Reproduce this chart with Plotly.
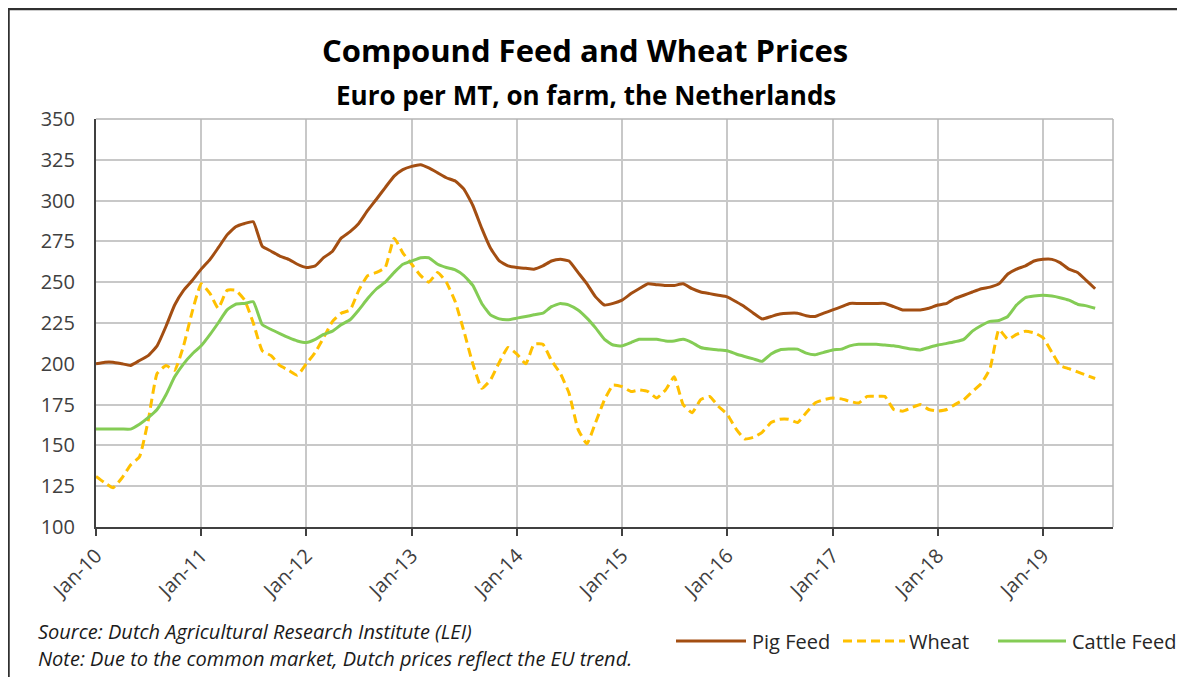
import pandas as pd
import plotly.graph_objects as go

# Monthly prices, Jan-10 .. Jul-19 (Euro per MT, on farm, the Netherlands)
months = pd.date_range('2010-01-01', '2019-07-01', freq='MS')

pig_feed = [
    200, 201, 201, 200, 199, 202, 205, 211, 223, 236, 245, 251,  # 2010
    258, 264, 271, 279, 284, 286, 287, 272, 269, 266, 264, 261,  # 2011
    259, 260, 265, 269, 277, 281, 286, 294, 301, 308, 315, 319,  # 2012
    321, 322, 320, 317, 314, 312, 307, 297, 283, 271, 263, 260,  # 2013
    259, 258.5, 258, 260, 263, 264, 263, 256, 249, 241, 236, 237,  # 2014
    239, 243, 246, 249, 248.5, 248, 248, 249, 246, 244, 243, 242,  # 2015
    241, 238, 235, 231, 227.5, 229, 230.5, 231, 231, 229.5, 229, 231,  # 2016
    233, 235, 237, 237, 237, 237, 237, 235, 233, 233, 233, 234,  # 2017
    236, 237, 240, 242, 244, 246, 247, 249, 255, 258, 260, 263,  # 2018
    264, 264, 262, 258, 256, 251, 246,  # 2019
]

wheat = [
    131, 127, 124, 130, 138, 143, 165, 194, 199, 196, 211, 232,  # 2010
    249, 243, 234, 245, 245, 239, 225, 208, 205, 199, 196, 193,  # 2011
    200, 207, 216, 226, 231, 233, 245, 254, 256, 259, 277, 268,  # 2012
    261, 254, 250, 256, 250, 238, 220, 200, 185, 190, 201, 210,  # 2013
    206, 200, 212, 212, 202, 194, 182, 160, 151, 164, 178, 187,  # 2014
    186, 183, 184, 183, 179, 184, 192, 175, 170, 178, 180, 174,  # 2015
    169, 160, 154, 155, 158, 164, 166, 166, 164, 170, 176, 178,  # 2016
    179, 178.5, 177, 176, 180, 180, 180, 172, 171, 173, 175, 172,  # 2017
    171, 172, 175, 178, 183, 188, 197, 221, 215, 218, 220, 219,  # 2018
    216, 207, 199, 197, 195, 193, 191,  # 2019
]

cattle_feed = [
    160, 160, 160, 160, 160, 163, 167, 172, 181, 192, 200, 206,  # 2010
    211, 218, 225, 233, 236.5, 237, 238, 224, 221, 218.5, 216, 214,  # 2011
    213, 215, 218, 220, 224, 227, 233, 240, 246, 250, 256, 261,  # 2012
    263, 265, 265, 261, 259, 257.5, 254, 248, 237, 230, 227.5, 227,  # 2013
    228, 229, 230, 231, 235, 237, 236, 233, 228, 222, 215, 211.5,  # 2014
    211, 213, 215, 215, 215, 214, 214, 215, 213, 210, 209, 208.5,  # 2015
    208, 206, 204.5, 203, 201.5, 206, 208.5, 209, 209, 206.5, 205.5, 207,  # 2016
    208.5, 209, 211, 212, 212, 212, 211.5, 211, 210, 209, 208.5, 210,  # 2017
    211.5, 212.5, 213.5, 215, 220, 223.5, 226, 226.5, 229, 236, 240.5, 241.5,  # 2018
    242, 241.5, 240.5, 239, 236.5, 235.5, 234,  # 2019
]

series_names = ['Pig Feed', 'Wheat', 'Cattle Feed']
series_colors = ['#A34E12', '#FFC000', '#84CC55']
series_dash = ['solid', '9px,5px', 'solid']

FONT = 'Open Sans'
# page has an 8px body margin, so the figure is a little smaller than the window
W, H = 1177, 669
ML, MT = 88, 111
MR, MB = 72, 150
PW, PH = W - ML - MR, H - MT - MB


def px_x(x):
    # figure pixel -> paper x
    return (x - ML) / PW


def px_y(y):
    # figure pixel -> paper y
    return (H - MB - y) / PH


fig = go.Figure()
for name, vals, col, dash in zip(series_names, [pig_feed, wheat, cattle_feed], series_colors, series_dash):
    fig.add_trace(go.Scatter(x=months, y=vals, name=name, mode='lines',
                             line=dict(color=col, width=3, dash=dash, shape='spline', smoothing=0.4)))

fig.update_layout(
    width=W, height=H,
    margin=dict(l=ML, r=MR, t=MT, b=MB, autoexpand=False),
    paper_bgcolor='white',
    plot_bgcolor='white',
    font=dict(family=FONT, color='#404040'),
    showlegend=False,
    hovermode='x unified',
)

fig.update_xaxes(
    type='date',
    range=['2010-01-01', '2019-09-01'],
    tick0='2010-01-01', dtick='M12', tickformat='%b-%y',
    tickangle=-45, tickfont=dict(size=20, color='#404040'),
    ticks='outside', ticklen=7, tickwidth=1.5, tickcolor='#404040',
    showline=True, linecolor='#404040', linewidth=2,
    showgrid=True, gridcolor='#C8C8C8', gridwidth=1.5,
    zeroline=False,
)
fig.update_yaxes(
    range=[100, 350], dtick=25,
    tickfont=dict(size=20, color='#404040'),
    ticks='', ticklabelstandoff=15,
    showline=True, linecolor='#404040', linewidth=2,
    showgrid=True, gridcolor='#C8C8C8', gridwidth=1.5,
    zeroline=False,
)

# gray border on the top and right of the plot area, dark frame round the chart
fig.add_shape(type='line', xref='paper', yref='paper', x0=0, x1=1, y0=1, y1=1,
              line=dict(color='#B4B4B4', width=1.5))
fig.add_shape(type='line', xref='paper', yref='paper', x0=1, x1=1, y0=0, y1=1,
              line=dict(color='#B4B4B4', width=1.5))
fig.add_shape(type='line', xref='paper', yref='paper', x0=px_x(0), x1=px_x(W), y0=px_y(1), y1=px_y(1),
              line=dict(color='#303030', width=2.5))
fig.add_shape(type='line', xref='paper', yref='paper', x0=px_x(0.5), x1=px_x(0.5), y0=px_y(0), y1=px_y(H),
              line=dict(color='#303030', width=2.5))

fig.add_annotation(text='<b>Compound Feed and Wheat Prices</b>', xref='paper', yref='paper',
                   x=px_x(577), y=px_y(42), showarrow=False, xanchor='center', yanchor='middle',
                   font=dict(size=31, color='#000000'))
fig.add_annotation(text='<b>Euro per MT, on farm, the Netherlands</b>', xref='paper', yref='paper',
                   x=px_x(578), y=px_y(87), showarrow=False, xanchor='center', yanchor='middle',
                   font=dict(size=26, color='#000000'))
fig.add_annotation(text='<i>Source: Dutch Agricultural Research Institute (LEI)</i>',
                   xref='paper', yref='paper', x=px_x(28), y=px_y(623), showarrow=False,
                   xanchor='left', yanchor='middle', font=dict(size=20, color='#1A1A1A'))
fig.add_annotation(text='<i>Note: Due to the common market, Dutch prices reflect the EU trend.</i>',
                   xref='paper', yref='paper', x=px_x(28), y=px_y(650), showarrow=False,
                   xanchor='left', yanchor='middle', font=dict(size=20, color='#1A1A1A'))

# legend drawn as line samples + text, bottom right
legend_y = px_y(633)
legend_sample_x = [(668, 738), (835, 897), (990, 1058)]
legend_text_x = [742, 899, 1062]
for name, col, dash, (sx0, sx1), tx in zip(series_names, series_colors, series_dash,
                                           legend_sample_x, legend_text_x):
    fig.add_shape(type='line', xref='paper', yref='paper', x0=px_x(sx0), x1=px_x(sx1),
                  y0=legend_y, y1=legend_y, line=dict(color=col, width=3, dash=dash))
    fig.add_annotation(text=name, xref='paper', yref='paper', x=px_x(tx), y=legend_y,
                       showarrow=False, xanchor='left', yanchor='middle',
                       font=dict(size=20, color='#262626'))

fig.write_html('out.html', config={'displayModeBar': False})
